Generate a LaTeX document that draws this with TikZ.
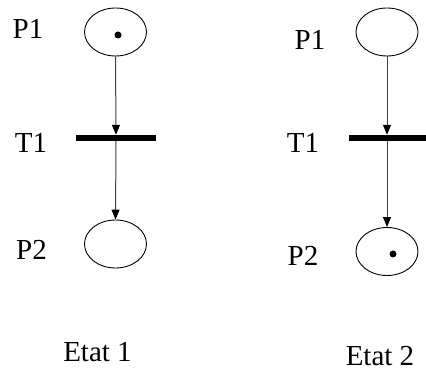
\documentclass[tikz,border=0pt]{standalone}
\usepackage{fontspec}
\setmainfont{Liberation Serif}
\usetikzlibrary{shapes.geometric}
\usetikzlibrary{arrows.meta}

\begin{document}
\begin{tikzpicture}[x=1pt, y=-1pt,
		pl/.style = {ellipse, draw=black, line width=0.9, minimum width=62, minimum height=48, inner sep=0},
		tr/.style = {rectangle, fill=black, minimum width=80, minimum height=6, inner sep=0},
		tk/.style = {circle, fill=black, minimum size=7, inner sep=0},
		lb/.style = {font=\fontsize{29}{33}\selectfont, inner sep=0},
		r/.style  = {-{Triangle[length=10, width=8, color=black]}, draw=black!75, line width=1}
		]
		\useasboundingbox (0, 0) rectangle (426, 374);
		
		%Nodes (Etat 1)
		\node[pl]	(p1a)	at	(115.5, 32)		{};
		\node[tk]	(tk1)	at	(118, 35)		{};
		\node[tr]	(t1a)	at	(116, 138)		{};
		\node[pl]	(p2a)	at	(115.5, 244)	{};
		\node[lb]	(lp1a)	at	(28, 28.5)		{P1};
		\node[lb]	(lt1a)	at	(31, 143)		{T1};
		\node[lb]	(lp2a)	at	(31.5, 250)		{P2};
		\node[lb]	(ea)	at	(97.5, 352)		{Etat 1};
		
		%Nodes (Etat 2)
		\node[pl]	(p1b)	at	(387, 32)		{};
		\node[tr]	(t1b)	at	(389, 138)		{};
		\node[pl]	(p2b)	at	(387, 251.5)	{};
		\node[tk]	(tk2)	at	(393, 254)		{};
		\node[lb]	(lp1b)	at	(310, 40)		{P1};
		\node[lb]	(lt1b)	at	(303, 143)		{T1};
		\node[lb]	(lp2b)	at	(303, 256)		{P2};
		\node[lb]	(eb)	at	(380, 356)		{Etat 2};
		
		%Lines
		\draw[r]	(p1a.south)	to	(t1a.north);
		\draw[r]	(t1a.south)	to	(p2a.north);
		\draw[r]	(p1b.south)	to	(p1b.south |- t1b.north);
		\draw[r]	(p1b.south |- t1b.south)	to	(p2b.north);
	\end{tikzpicture}
\end{document}
